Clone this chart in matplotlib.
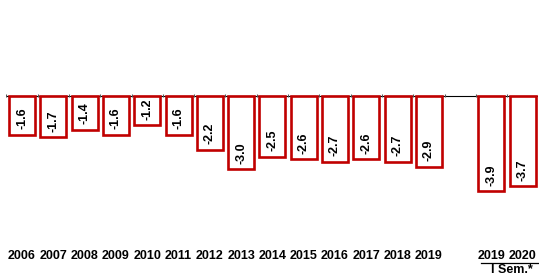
import matplotlib.pyplot as plt
import numpy as np

# données du graphique
annees = ['2006', '2007', '2008', '2009', '2010', '2011', '2012', '2013',
          '2014', '2015', '2016', '2017', '2018', '2019', '', '2019', '2020']
valeurs = [-1.6, -1.7, -1.4, -1.6, -1.2, -1.6, -2.2, -3.0,
           -2.5, -2.6, -2.7, -2.6, -2.7, -2.9, None, -3.9, -3.7]
note_semestre = 'I Sem.*'

rouge = '#C00000'
plt.rcParams['font.family'] = ['Liberation Sans', 'DejaVu Sans']

fig = plt.figure(figsize=(5.39, 2.78), dpi=100)
# axe zéro vers y=96 px, 24.4 px par unité
ax = fig.add_axes([6.4 / 539, 32 / 278, 532 / 539, 155 / 278])

x = np.arange(len(annees))
for i, v in zip(x, valeurs):
    if v is None:
        continue
    ax.bar(i, v, width=0.83, color='white', edgecolor=rouge, linewidth=1.9, zorder=3)
    ax.annotate(f'{v:.1f}', xy=(i, v), xytext=(0, 4), textcoords='offset points',
                rotation=90, ha='center', va='bottom', fontsize=9,
                fontweight='bold', zorder=4)

# axe horizontal avec petites graduations
ax.axhline(0, color='black', linewidth=0.8, zorder=2)
ax.vlines(np.arange(-0.5, len(annees)), -0.06, 0.06, color='#555555', linewidth=0.8, zorder=2)

ax.set_xlim(-0.5, len(annees) - 0.5)
ax.set_ylim(-6.15, 0.2)
ax.axis('off')

# étiquettes des années
tr = ax.get_xaxis_transform()
for i, lab in zip(x, annees):
    ax.text(i, -0.067, lab, transform=tr, ha='center', va='center',
            fontsize=9, fontweight='bold')

# ligne et mention du semestre
ax.plot([14.65, 16.5], [-0.11, -0.11], transform=tr, color='black',
        linewidth=0.9, clip_on=False)
ax.text(15.65, -0.155, note_semestre, transform=tr, ha='center', va='center',
        fontsize=9, fontweight='bold')

fig.savefig('out.png', dpi=100)
